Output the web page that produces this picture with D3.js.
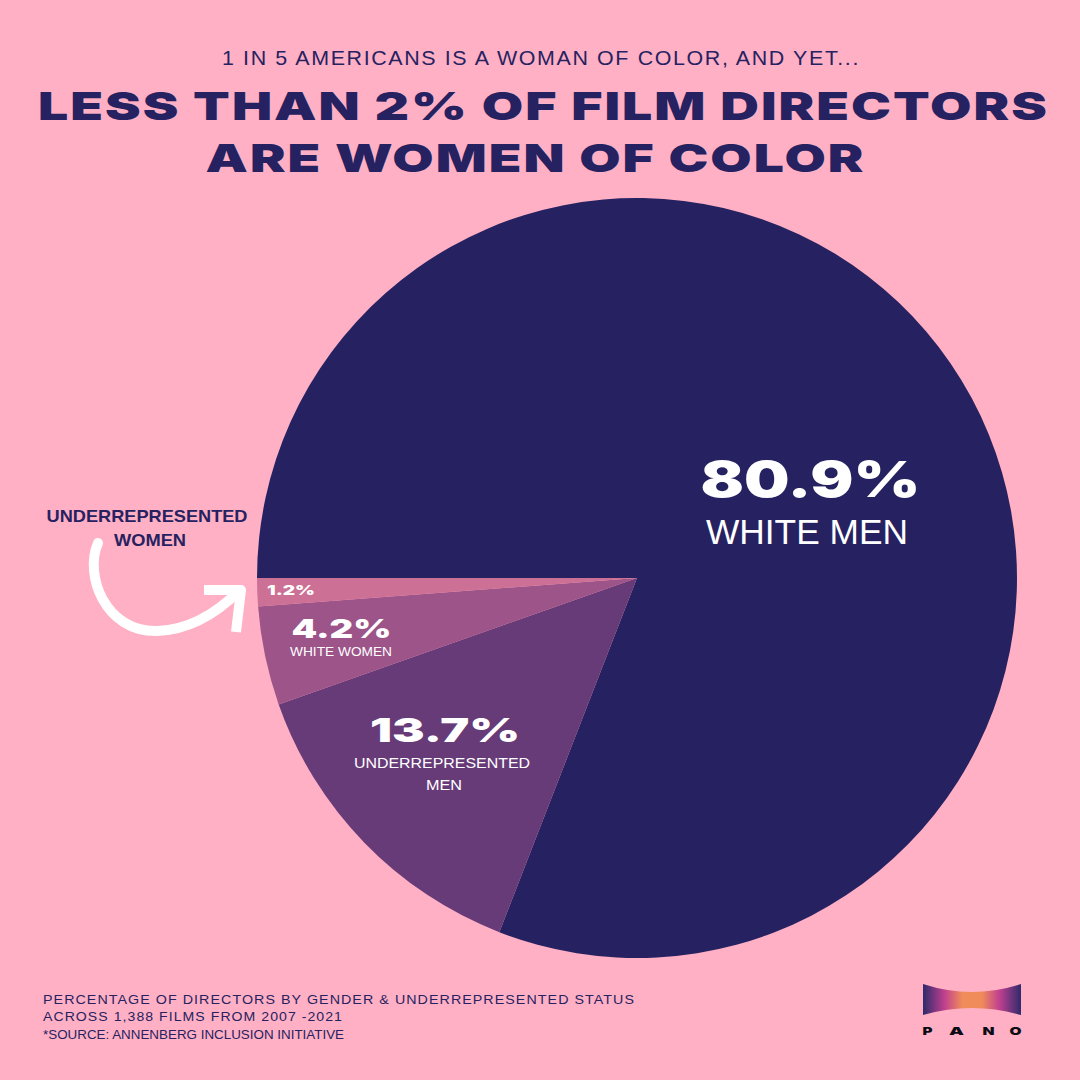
<!DOCTYPE html>
<html>
<head>
<meta charset="utf-8">
<script src="https://cdn.jsdelivr.net/npm/d3@7"></script>
<style>
  html, body { margin: 0; padding: 0; background: #ffb0c4; }
  svg { display: block; }
</style>
</head>
<body>
<div id="container"></div>
<script>
// shares of directors, clockwise from 9 o'clock
const categories = ["White men", "Underrepresented men", "White women", "Underrepresented women"];
const shares = [80.9, 13.7, 4.2, 1.2];
const sliceColors = ["#262261", "#673a78", "#9c5489", "#cc7095"];

const width = 1080;
const height = 1080;
const navy = "#262261";
const wide = "Inter, 'Liberation Sans', sans-serif";
const plain = "'Liberation Sans', Arial, sans-serif";

const svg = d3.select("#container")
  .append("svg")
  .attr("width", width)
  .attr("height", height);

svg.append("rect")
  .attr("width", width)
  .attr("height", height)
  .attr("fill", "#ffb0c4");

// draws a text, stretched to the width it has in the reference when w is given
function label(x, y, str, size, weight, color, family, w, spacing) {
  const t = svg.append("text")
    .attr("x", x)
    .attr("y", y)
    .attr("text-anchor", "middle")
    .attr("font-family", family)
    .attr("font-size", size)
    .attr("font-weight", weight)
    .attr("fill", color)
    .text(str);
  if (spacing) t.attr("letter-spacing", spacing);
  if (w) t.attr("textLength", w).attr("lengthAdjust", "spacingAndGlyphs");
  return t;
}

// pie
const pie = d3.pie()
  .sort(null)
  .startAngle(-Math.PI / 2)
  .endAngle(Math.PI * 1.5);

const arc = d3.arc().innerRadius(0).outerRadius(380);

svg.append("g")
  .attr("transform", "translate(637,578)")
  .selectAll("path")
  .data(pie(shares))
  .join("path")
  .attr("d", arc)
  .attr("fill", (d, i) => sliceColors[i]);

// headline
label(541, 65, "1 IN 5 AMERICANS IS A WOMAN OF COLOR, AND YET...", 21, 400, navy, plain, 638, 1.6);
label(543.5, 120, "LESS THAN 2% OF FILM DIRECTORS", 39, 900, navy, wide, 1011, 1.5);
label(535.5, 172, "ARE WOMEN OF COLOR", 39, 900, navy, wide, 660, 1.5);

// slice labels
const pct = d => d + "%";
label(810.5, 497, pct(shares[0]), 50, 900, "#fff", wide, 220);
label(807, 544, "WHITE MEN", 35, 400, "#fff", plain, 202);
label(445, 742, pct(shares[1]), 33, 900, "#fff", wide, 150);
label(442, 768, "UNDERREPRESENTED", 15.5, 400, "#fff", plain, 176);
label(444, 790, "MEN", 15.5, 400, "#fff", plain, 36);
label(341.5, 638, pct(shares[2]), 26, 900, "#fff", wide, 100);
label(341, 656, "WHITE WOMEN", 13, 400, "#fff", plain, 102);
label(291, 595, pct(shares[3]), 13, 900, "#fff", wide, 48);

// side note and arrow
label(147, 522, "UNDERREPRESENTED", 17, 700, navy, plain, 201);
label(150, 546, "WOMEN", 17, 700, navy, plain, 72);

svg.append("path")
  .attr("d", "M98,543 C84,575 105,632 157,631 C190,630 218,612 240,590")
  .attr("fill", "none")
  .attr("stroke", "#fff")
  .attr("stroke-width", 10)
  .attr("stroke-linecap", "round");
svg.append("path")
  .attr("d", "M204,590 L241,590 L236,632")
  .attr("fill", "none")
  .attr("stroke", "#fff")
  .attr("stroke-width", 10)
  .attr("stroke-linejoin", "round");

// footnote
const foot = svg.append("g").attr("font-family", plain).attr("fill", navy);
[["PERCENTAGE OF DIRECTORS BY GENDER & UNDERREPRESENTED STATUS", 1004, 13.5, 592, 1],
 ["ACROSS 1,388 FILMS FROM 2007 -2021", 1021, 13.5, 300, 1],
 ["*SOURCE: ANNENBERG INCLUSION INITIATIVE", 1039, 13, 301, 0]].forEach(r => {
  foot.append("text")
    .attr("x", 43)
    .attr("y", r[1])
    .attr("font-size", r[2])
    .attr("letter-spacing", r[4])
    .attr("textLength", r[3])
    .attr("lengthAdjust", "spacingAndGlyphs")
    .text(r[0]);
});

// logo
const grad = svg.append("defs").append("linearGradient").attr("id", "pano");
[["0%", "#2e2a6b"], ["22%", "#c0408f"], ["40%", "#f08c5a"], ["60%", "#f08c5a"], ["78%", "#c0408f"], ["100%", "#2e2a6b"]]
  .forEach(s => grad.append("stop").attr("offset", s[0]).attr("stop-color", s[1]));

svg.append("path")
  .attr("d", "M923,984 Q972,1000 1021,984 L1021,1015 Q972,1001 923,1015 Z")
  .attr("fill", "url(#pano)");

[["P", 927.5, 10], ["A", 956.5, 15], ["N", 988.5, 12], ["O", 1015.5, 12]].forEach(c => {
  label(c[1], 1035, c[0], 11, 900, "#0b0b14", wide, c[2]);
});
</script>
</body>
</html>
